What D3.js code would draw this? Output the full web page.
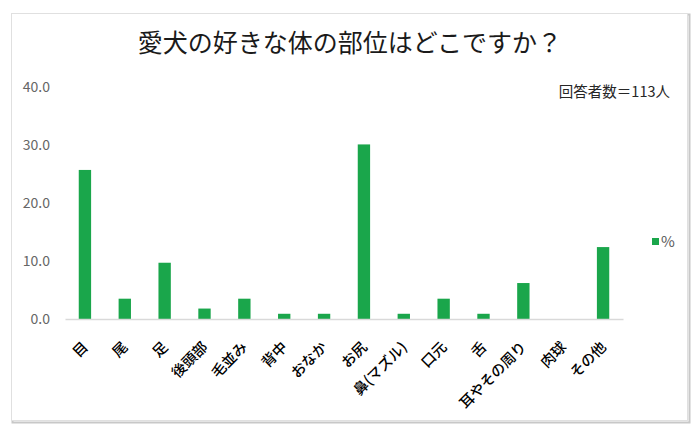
<!DOCTYPE html>
<html>
<head>
<meta charset="utf-8">
<script src="https://cdn.jsdelivr.net/npm/d3@7"></script>
<style>
    body { margin: 0; background: #fff; }
    text { font-family: "Noto Sans CJK JP", "Noto Sans", sans-serif; }
</style>
</head>
<body>
<div id="chart"></div>
<script>
// chart data
const titleText = '愛犬の好きな体の部位はどこですか？';
const noteText = '回答者数＝113人';
const seriesName = '%';
const categories = ['目', '尾', '足', '後頭部', '毛並み', '背中', 'おなか', 'お尻', '鼻(マズル)', '口元', '舌', '耳やその周り', '肉球', 'その他'];
const percents = [25.7, 3.5, 9.7, 1.8, 3.5, 0.9, 0.9, 30.1, 0.9, 3.5, 0.9, 6.2, 0, 12.4];
const yTicks = [0, 10, 20, 30, 40];

class BarChart {
    constructor(_config) {
        this.config = {
            parentElement: _config.parentElement,
            containerWidth: 699,
            containerHeight: 429,
            margin: { top: 87, bottom: 110, right: 76, left: 65 }
        };
        this.initVis();
    }

    initVis() {
        let vis = this;

        vis.width = vis.config.containerWidth - vis.config.margin.left - vis.config.margin.right;
        vis.height = vis.config.containerHeight - vis.config.margin.top - vis.config.margin.bottom;

        vis.svg = d3.select(vis.config.parentElement).append('svg')
            .attr('width', vis.config.containerWidth)
            .attr('height', vis.config.containerHeight);

        // frame with a little shadow
        vis.svg.append('rect')
            .attr('x', 12.5).attr('y', 14.5)
            .attr('width', 677).attr('height', 408)
            .attr('fill', 'none')
            .attr('stroke', '#c8c8c8')
            .attr('stroke-width', 2);
        vis.svg.append('rect')
            .attr('x', 11.5).attr('y', 13.5)
            .attr('width', 676).attr('height', 407)
            .attr('fill', '#fff')
            .attr('stroke', '#e0e0e0');

        vis.svg.append('text')
            .attr('x', 350)
            .attr('y', 52)
            .attr('text-anchor', 'middle')
            .attr('font-size', 25)
            .attr('fill', '#1a1a1a')
            .text(titleText);

        vis.svg.append('text')
            .attr('x', 670)
            .attr('y', 97)
            .attr('text-anchor', 'end')
            .attr('font-size', 14.5)
            .attr('fill', '#262626')
            .text(noteText);

        vis.xScale = d3.scaleBand()
            .domain(categories)
            .range([0, vis.width])
            .paddingInner(0.69)
            .paddingOuter(0.345);

        vis.yScale = d3.scaleLinear()
            .domain([0, 40])
            .range([vis.height, 0]);

        vis.chart = vis.svg.append('g')
            .attr('transform', `translate(${vis.config.margin.left},${vis.config.margin.top})`);

        // y axis, labels only
        vis.yAxisG = vis.chart.append('g')
            .call(d3.axisLeft(vis.yScale).tickValues(yTicks).tickFormat(d3.format('.1f')).tickSize(0).tickPadding(15));
        vis.yAxisG.select('.domain').remove();
        vis.yAxisG.selectAll('text')
            .attr('font-size', 14)
            .attr('fill', '#666')
            .attr('font-family', '"Noto Sans", sans-serif');

        vis.renderVis();
    }

    renderVis() {
        let vis = this;

        vis.chart.selectAll('.bar')
            .data(categories)
            .enter().append('rect')
            .attr('class', 'bar')
            .attr('x', d => vis.xScale(d))
            .attr('y', (d, i) => vis.yScale(percents[i]))
            .attr('width', vis.xScale.bandwidth())
            .attr('height', (d, i) => vis.yScale(0) - vis.yScale(percents[i]))
            .attr('fill', '#1aa64b');

        // x axis
        vis.xAxisG = vis.chart.append('g')
            .attr('transform', `translate(0,${vis.height})`)
            .call(d3.axisBottom(vis.xScale).tickSize(0).tickSizeOuter(0).tickPadding(0));
        vis.xAxisG.select('.domain')
            .attr('stroke', '#d9d9d9')
            .attr('stroke-width', 1.3);
        vis.xAxisG.selectAll('text')
            .attr('font-size', 14.5)
            .attr('font-weight', 500)
            .attr('fill', '#000')
            .attr('text-anchor', 'end')
            .attr('dy', 0)
            .attr('y', 0)
            .attr('transform', 'translate(4,29) rotate(-45)');

        // legend
        vis.svg.append('rect')
            .attr('x', 652).attr('y', 238)
            .attr('width', 7).attr('height', 7)
            .attr('fill', '#1aa64b');
        vis.svg.append('text')
            .attr('x', 661).attr('y', 247)
            .attr('font-size', 15)
            .attr('fill', '#595959')
            .attr('font-family', '"Noto Sans", sans-serif')
            .text(seriesName);
    }
}

new BarChart({ parentElement: '#chart' });
</script>
</body>
</html>
